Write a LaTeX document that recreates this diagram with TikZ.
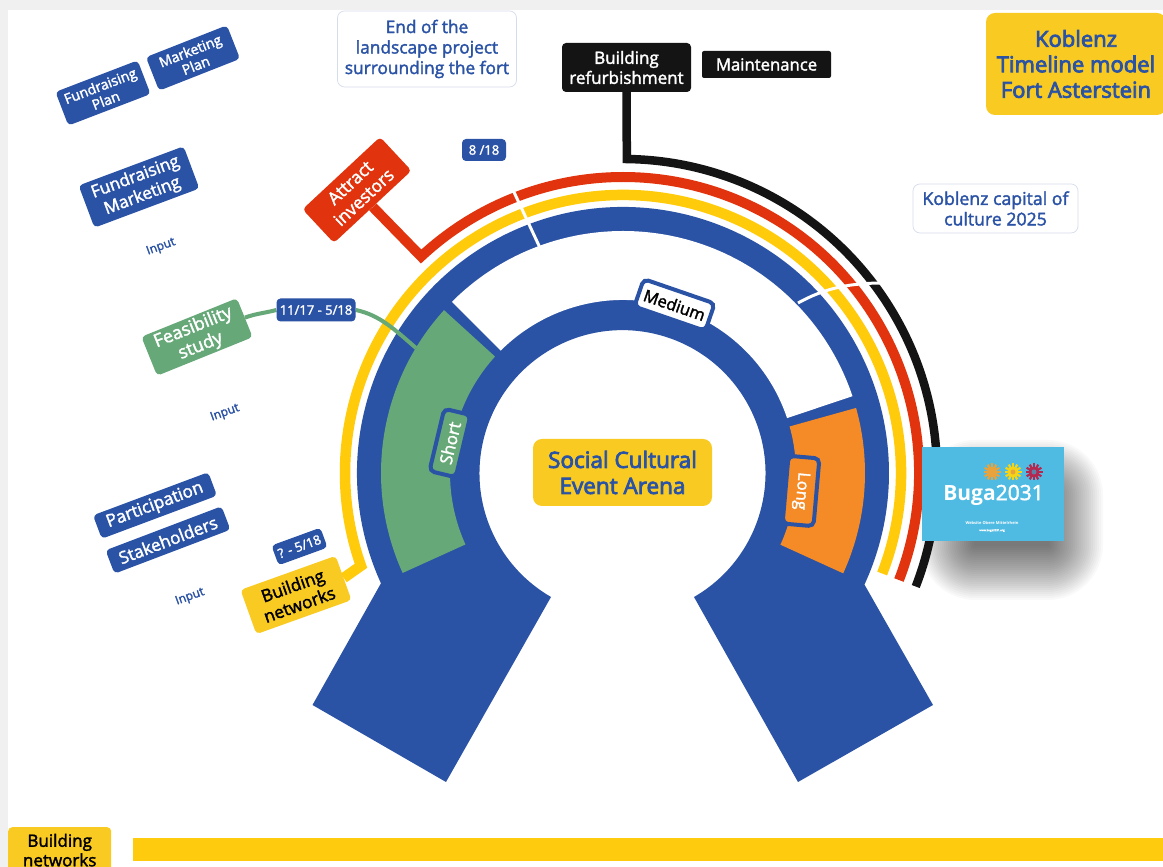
\documentclass[tikz,border=0pt]{standalone}
\usepackage{fontspec}
\setmainfont[FakeBold=2,BoldFeatures={FakeBold=0}]{Open Sans}
\newfontfamily\heavyfont[FakeBold=3.5]{Open Sans}
\pgfdeclarelayer{paper}
\pgfdeclarelayer{ring}
\pgfsetlayers{paper,ring,main}
\definecolor{kblue}{HTML}{2A52A5}
\definecolor{kgreen}{HTML}{66A878}
\definecolor{korange}{HTML}{F58B27}
\definecolor{kyellow}{HTML}{FFCB0A}
\definecolor{ktitle}{HTML}{F9CB22}
\definecolor{kred}{HTML}{E1330D}
\definecolor{kblack}{HTML}{141414}
\definecolor{kframe}{HTML}{D5DCEC}
\definecolor{ksky}{HTML}{4FBBE3}
\definecolor{fla}{HTML}{E8A33D}
\definecolor{flb}{HTML}{F5D416}
\definecolor{flc}{HTML}{B5274F}
\definecolor{flcc}{HTML}{5E7FA8}
\newcommand{\fs}[2]{\fontsize{#1}{#2}\selectfont}
\tikzset{
  x=1pt,y=1pt,
  tag/.style={rounded corners=4pt,inner sep=0pt,align=center,anchor=center},
  bluetag/.style={tag,fill=kblue,text=white},
  frametag/.style={tag,draw=kframe,line width=.7pt,fill=white,text=kblue,rounded corners=7pt},
  goldtag/.style={tag,fill=ktitle,text=kblue,rounded corners=9pt},
  inputlabel/.style={text=kblue,font=\fs{12}{14},inner sep=0pt,rotate=20},
  period/.style={tag,draw=kblue,line width=4pt,rounded corners=5pt},
  band/.style={draw,line join=miter,line cap=butt},
  gap/.style={draw=white,line width=3pt}
}
\begin{document}
\begin{tikzpicture}
\useasboundingbox (0,0) rectangle (1163,867);
\clip (0,0) rectangle (1163,867);
\begin{pgfonlayer}{paper}
\fill[black!6] (0,0) rectangle (1163,867);
\fill[white] (8,0) rectangle (1163,867-10);
\end{pgfonlayer}

% text boxes
\node[bluetag,rotate=21,minimum width=88pt,minimum height=36pt,font=\fs{14}{15.5}] (fplan) at (103,867-93) {Fundraising\\Plan};
\node[bluetag,rotate=21.5,minimum width=87pt,minimum height=36pt,font=\fs{14}{15.5}] (mplan) at (193,867-58) {Marketing\\Plan};
\node[bluetag,rotate=20.5,minimum width=112pt,minimum height=45pt,font=\fs{17}{20}] (fm) at (139,867-187) {Fundraising\\Marketing};
\node[inputlabel] (in1) at (161,867-247) {Input};
\node[frametag,minimum width=179pt,minimum height=76pt,font=\fs{17.3}{20.5}] (end) at (427,867-49) {End of the\\landscape project\\surrounding the fort};
\node[bluetag,minimum width=44pt,minimum height=22pt,font=\fs{13}{14}] (d8) at (484,867-150) {8 /18};
\node[tag,fill=kred,text=white,rotate=43,minimum width=106pt,minimum height=46pt,font=\fs{17.5}{20}] (attract) at (357,867-190) {Attract\\investors};
\node[tag,fill=kgreen,text=white,rotate=22,minimum width=103pt,minimum height=42pt,font=\fs{18}{20}] (feas) at (197,867-337) {Feasibility\\study};
\node[bluetag,minimum width=79pt,minimum height=23pt,font=\fs{13}{14}] (d11) at (316,867-310) {11/17 - 5/18};
\node[inputlabel] (in2) at (225,867-413) {Input};
\node[bluetag,rotate=20.5,minimum width=123pt,minimum height=25pt,font=\fs{17.3}{18}] (part) at (155,867-505.5) {Participation};
\node[bluetag,rotate=20.8,minimum width=124pt,minimum height=25pt,font=\fs{17.2}{18}] (stake) at (168,867-540) {Stakeholders};
\node[inputlabel] (in3) at (190,867-597) {Input};
\node[bluetag,rotate=20,minimum width=52pt,minimum height=21pt,font=\fs{13}{14}] (dq) at (299.5,867-546.5) {? - 5/18};
\node[tag,fill=ktitle,text=black,rotate=19.7,minimum width=101pt,minimum height=47pt,font=\fs{17.3}{20}] (net) at (296,867-595) {Building\\networks};
\node[tag,fill=kblack,text=white,minimum width=129pt,minimum height=49pt,font=\fs{17}{20}] (refurb) at (626.5,867-67.5) {Building\\refurbishment};
\node[tag,fill=kblack,text=white,rounded corners=2pt,minimum width=129pt,minimum height=27pt,font=\fs{16.7}{20}] (maint) at (766.5,867-64.5) {Maintenance};
\node[goldtag,minimum width=180pt,minimum height=102pt,font=\heavyfont\fs{22}{25.5}] (title) at (1076,867-64) {Koblenz\\Timeline model\\Fort Asterstein};
\node[frametag,minimum width=165pt,minimum height=49pt,font=\fs{17.7}{20.5}] (cap) at (995.5,867-208.5) {Koblenz capital of\\culture 2025};
\node[goldtag,minimum width=179pt,minimum height=67pt,font=\heavyfont\fs{22.5}{26}] (arena) at (622.5,867-472.5) {Social Cultural\\Event Arena};
\node[period,fill=kgreen,text=white,rotate=76.6,minimum width=64pt,minimum height=27pt,font=\fs{17}{19}] (short) at (450,867-443) {Short};
\node[period,fill=white,text=black,rotate=-19,minimum width=75pt,minimum height=29pt,font=\fs{16.5}{18}] (medium) at (674.5,867-305) {Medium};
\node[period,fill=korange,text=white,rotate=-95,minimum width=68pt,minimum height=31pt,font=\fs{16.5}{18}] (long) at (801,867-491) {Long};
\node[tag,fill=kyellow!85!ktitle,rounded corners=0pt,minimum width=1030pt,minimum height=23pt] (bar) at (648,867-849.5) {};
\node[tag,fill=ktitle,text=black,minimum width=103pt,minimum height=46pt,font=\fs{17}{19.5},anchor=north west] (tagnet) at (8,867-827) {Building\\networks};

% Buga picture
\node[tag,fill=ksky,rounded corners=0pt,minimum width=142pt,minimum height=94pt] (buga) at (993,867-494) {};
\node[text=white,inner sep=0pt,font=\fs{21}{24}] (bugat) at (993.5,867-495) {\textbf{Buga}2031};
\node[text=white,inner sep=0pt,font=\fs{4}{5}] (bugaw) at (992,867-523.5) {\textbf{Website Obere Mittelrhein}};
\node[text=white,inner sep=0pt,font=\fs{2.8}{4}] (bugau) at (992,867-530.5) {www.buga2031.org};
\foreach \cx/\col/\ccol in {992/fla/fla, 1013/flb/fla, 1034/flc/flcc}{
  \foreach \a in {0,30,...,330}
    \draw[\col,line width=2.2pt] (\cx,867-472) -- +(\a:8.5);
  \fill[\col] (\cx,867-472) circle (5.5);
  \fill[\ccol] (\cx,867-472) circle (2.5);
}

\begin{pgfonlayer}{ring}
  % soft shadow of the picture
  \foreach \r in {55,53,...,1}
    \fill[black,opacity=.024,rounded corners=\r] (975-\r,867-545-\r) rectangle (1048+\r,867-495+\r);
  % horseshoe
  \fill[kblue] (623,394) ++(204.5:266) arc[start angle=204.5,end angle=-24.8,radius=266]
     -- (933,867-705) -- (798,867-782) -- (694,867-597)
     arc[start angle=-60,end angle=240,radius=143]
     -- (446,867-782) -- (312.5,867-705) -- cycle;
  \fill[white] (623,394) ++(135:242) arc[start angle=135,end angle=18.5,radius=242]
     -- ++(198.5:69) arc[start angle=18.5,end angle=135,radius=173] -- cycle;
  \fill[kgreen] (623,394) ++(137.7:242) arc[start angle=137.7,end angle=204.4,radius=242]
     -- ++(24.4:69) arc[start angle=204.4,end angle=137.7,radius=173] -- cycle;
  \fill[korange] (623,394) ++(15.6:242) arc[start angle=15.6,end angle=-24.5,radius=242]
     -- ++(155.5:69) arc[start angle=-24.5,end angle=15.6,radius=173] -- cycle;
  % bands and their connectors
  \draw[band,kyellow,line width=10.5pt] (623,394) ++(-21.2:278) arc[start angle=-21.2,end angle=199.5,radius=278] -- (net.east);
  \draw[band,kred,line width=10pt] (623,394) ++(-21.2:296) arc[start angle=-21.2,end angle=133,radius=296] -- (attract.south);
  \draw[band,kblack,line width=8.5pt] (623,394) ++(-21.2:314) arc[start angle=-21.2,end angle=89.3,radius=314] -- (refurb.south);
  % white cuts
  \draw[gap] (513,867-190) -- (541,867-250);
  \draw[gap] (798,867-303) .. controls (825,867-288) and (850,867-283) .. (884,867-283);
  % green connector
  \coordinate (shortend) at (416,867-348);
  \draw[kgreen,line width=4pt] (feas.east) to[out=20,in=195] (d11.west);
  \draw[kgreen,line width=4pt] (d11.east) .. controls (380,867-315) and (395,867-330) .. (shortend);
\end{pgfonlayer}
\end{tikzpicture}
\end{document}
